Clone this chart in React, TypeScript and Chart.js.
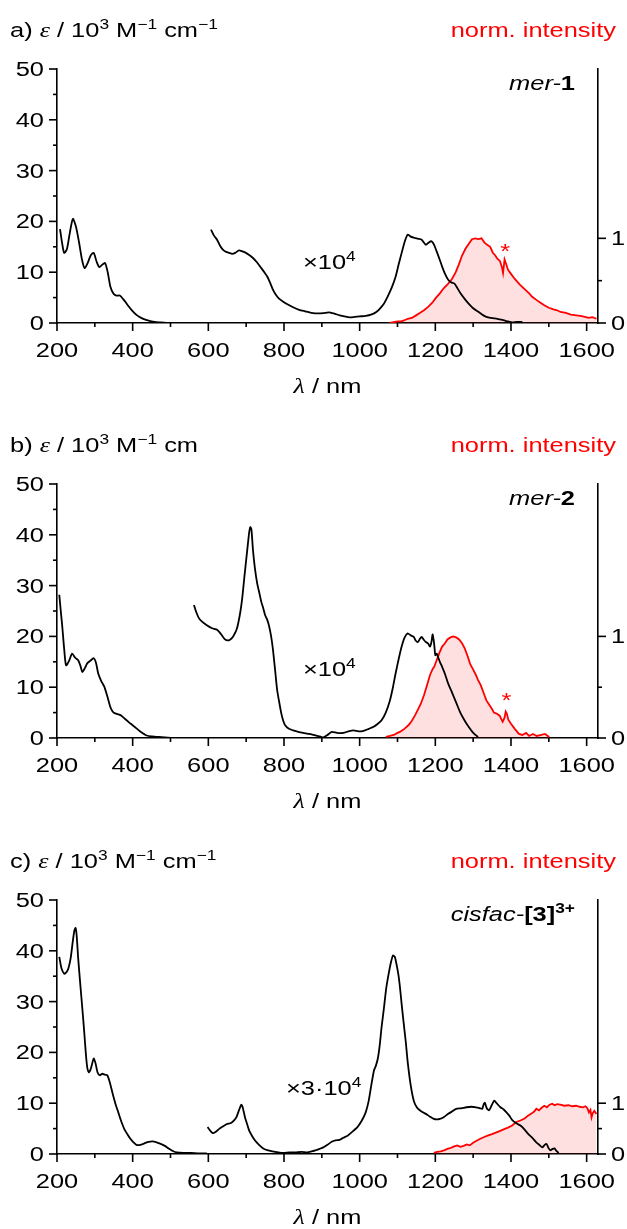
import React, { useEffect, useRef } from 'react';
import { Chart, registerables } from 'chart.js';

Chart.register(...registerables);

// ---------- data: [wavelength nm, value] ----------
// panel a (mer-1)
const aUv = [[208,18.5],[214,15.5],[219,13.8],[226,14.5],[234,17.8],[242,20.5],[250,19.0],[258,16.0],[266,12.5],[273,10.8],[281,11.8],[289,13.3],[297,13.8],[305,12.0],[312,11.0],[320,11.5],[327,11.8],[334,10.0],[341,7.2],[349,5.8],[357,5.4],[366,5.4],[376,4.6],[386,3.6],[398,2.5],[410,1.6],[425,0.9],[440,0.5],[458,0.2],[475,0.1],[490,0.0]];
const aNir = [[607,18.4],[615,17.2],[623,16.4],[631,15.2],[639,14.4],[647,14.0],[655,13.8],[663,13.6],[671,13.8],[681,14.3],[690,14.1],[697,13.9],[708,13.4],[718,12.8],[729,11.9],[740,10.8],[748,10.0],[756,9.1],[764,7.8],[771,6.5],[779,5.5],[787,4.8],[798,4.2],[809,3.7],[824,3.1],[840,2.6],[856,2.3],[872,2.0],[894,1.9],[910,2.0],[920,2.1],[935,1.8],[947,1.5],[960,1.3],[973,1.1],[987,1.2],[1000,1.3],[1016,1.4],[1032,1.7],[1043,2.1],[1053,2.8],[1064,3.8],[1074,5.2],[1085,7.0],[1095,9.1],[1103,11.5],[1111,13.8],[1119,16.0],[1127,17.4],[1135,17.0],[1143,16.8],[1153,16.6],[1164,16.4],[1175,15.4],[1182,15.8],[1189,16.1],[1196,15.5],[1202,14.4],[1210,12.8],[1218,11.1],[1226,9.6],[1234,8.5],[1242,8.0],[1250,7.8],[1258,6.9],[1267,5.8],[1277,4.8],[1288,3.8],[1300,2.9],[1314,2.2],[1325,1.6],[1335,1.2],[1346,1.0],[1357,0.9],[1370,0.7],[1382,0.5],[1392,0.3],[1403,0.1],[1415,0.2],[1430,0.2]];
const aEm = [[1079,0],[1090,0.01],[1100,0.02],[1110,0.02],[1117,0.03],[1127,0.05],[1138,0.06],[1149,0.09],[1160,0.12],[1170,0.15],[1181,0.19],[1192,0.24],[1202,0.30],[1212,0.35],[1222,0.41],[1233,0.46],[1244,0.52],[1254,0.60],[1262,0.69],[1271,0.80],[1280,0.88],[1289,0.94],[1297,0.99],[1305,1.00],[1314,0.99],[1322,1.00],[1330,0.95],[1338,0.92],[1345,0.90],[1352,0.83],[1358,0.80],[1364,0.76],[1371,0.73],[1376,0.66],[1379,0.59],[1383,0.75],[1387,0.70],[1392,0.63],[1400,0.58],[1410,0.52],[1424,0.45],[1436,0.40],[1448,0.35],[1456,0.31],[1468,0.27],[1478,0.24],[1488,0.21],[1500,0.18],[1512,0.16],[1522,0.15],[1531,0.13],[1545,0.12],[1558,0.10],[1573,0.09],[1587,0.08],[1598,0.07],[1605,0.06],[1615,0.07],[1626,0.05]];

// panel b (mer-2)
const bUv = [[206,28.2],[210,25.0],[214,21.9],[219,17.5],[224,14.3],[232,15.2],[240,16.6],[248,15.8],[256,15.3],[262,14.2],[267,13.0],[274,13.8],[280,14.7],[288,15.2],[297,15.7],[303,14.8],[309,12.7],[317,11.2],[325,10.1],[333,8.2],[341,6.1],[347,5.2],[352,4.9],[360,4.7],[368,4.5],[376,4.0],[384,3.5],[395,2.8],[405,2.2],[420,1.3],[437,0.5],[452,0.3],[469,0.2],[485,0.1],[501,0.0]];
const bNir = [[562,26.2],[568,24.8],[575,23.6],[585,22.8],[596,22.2],[610,21.6],[623,21.3],[634,20.4],[644,19.4],[652,19.2],[658,19.4],[664,19.8],[668,20.3],[674,21.2],[679,22.6],[685,25.0],[690,27.8],[695,31.5],[700,35.0],[705,38.5],[708,40.5],[711,41.5],[714,41.0],[718,37.0],[723,33.5],[729,30.5],[735,28.5],[740,26.8],[745,25.6],[750,24.2],[756,23.2],[761,21.9],[766,20.0],[771,17.3],[777,13.0],[782,9.4],[788,6.8],[793,4.8],[798,3.4],[803,2.5],[813,1.8],[824,1.5],[838,1.2],[851,1.0],[867,0.8],[883,0.5],[895,0.3],[904,0.1],[915,0.6],[926,1.2],[940,1.0],[957,1.0],[970,1.3],[984,1.5],[997,1.3],[1010,1.4],[1024,1.8],[1037,2.2],[1048,2.8],[1058,3.5],[1069,5.0],[1080,7.4],[1088,10.0],[1095,12.7],[1103,15.5],[1111,18.0],[1119,19.8],[1127,20.6],[1135,20.2],[1143,19.9],[1148,19.2],[1154,18.9],[1159,19.5],[1164,19.9],[1170,19.3],[1175,18.9],[1181,18.6],[1186,18.0],[1190,19.0],[1193,20.4],[1197,18.5],[1200,16.3],[1204,16.6],[1207,16.0],[1212,15.0],[1218,14.0],[1226,12.5],[1234,10.7],[1245,8.8],[1256,6.8],[1266,5.0],[1277,3.5],[1288,2.2],[1298,1.2],[1306,0.6],[1313,0.2]];
const bEm = [[1069,0.01],[1080,0.02],[1090,0.03],[1100,0.05],[1106,0.06],[1115,0.08],[1124,0.11],[1130,0.13],[1138,0.17],[1146,0.22],[1154,0.28],[1162,0.34],[1170,0.42],[1178,0.52],[1186,0.62],[1193,0.68],[1197,0.70],[1204,0.77],[1211,0.84],[1218,0.90],[1225,0.93],[1232,0.97],[1240,0.99],[1247,1.00],[1255,0.99],[1263,0.97],[1271,0.93],[1278,0.88],[1285,0.81],[1292,0.73],[1299,0.68],[1306,0.63],[1313,0.57],[1320,0.52],[1327,0.45],[1335,0.37],[1342,0.33],[1349,0.29],[1355,0.25],[1362,0.24],[1370,0.22],[1375,0.18],[1378,0.16],[1383,0.20],[1386,0.26],[1389,0.24],[1393,0.18],[1400,0.14],[1410,0.09],[1421,0.04],[1430,0.03],[1440,0.05],[1448,0.02],[1458,0.04],[1468,0.02],[1480,0.03],[1490,0.04],[1501,0.01]];

// panel c (cisfac-[3]3+)
const cUv = [[206,38.8],[212,36.5],[219,35.5],[225,35.8],[230,36.5],[236,38.5],[242,42.0],[246,44.0],[249,44.5],[252,43.0],[256,38.5],[262,33.0],[267,28.6],[272,24.0],[276,20.0],[280,17.0],[284,16.1],[288,16.5],[292,17.5],[297,18.8],[302,17.8],[307,16.1],[313,15.5],[320,15.8],[327,15.6],[333,15.5],[340,14.0],[346,12.2],[354,10.0],[362,8.2],[370,6.4],[378,4.9],[386,3.9],[394,3.0],[402,2.3],[410,1.8],[420,1.8],[431,2.1],[442,2.4],[453,2.5],[463,2.3],[474,2.0],[485,1.6],[495,1.1],[506,0.6],[517,0.3],[535,0.2],[554,0.2],[575,0.1],[596,0.1]];
const cNir = [[598,5.3],[605,4.6],[612,4.1],[620,4.4],[628,4.9],[638,5.4],[649,5.9],[660,6.1],[668,6.6],[674,7.2],[679,8.2],[683,9.0],[687,9.7],[690,9.4],[694,8.2],[697,7.2],[702,6.0],[708,4.6],[716,3.5],[724,2.6],[734,1.8],[745,1.1],[758,0.7],[771,0.5],[785,0.3],[798,0.2],[814,0.3],[830,0.3],[846,0.4],[862,0.3],[873,0.5],[883,0.7],[894,1.0],[904,1.3],[915,1.8],[926,2.4],[936,2.7],[947,2.8],[957,3.2],[968,3.6],[981,4.4],[994,5.3],[1005,6.5],[1016,8.2],[1024,10.5],[1032,14.1],[1038,16.5],[1043,17.4],[1048,18.8],[1053,21.4],[1058,25.0],[1064,28.6],[1070,32.5],[1076,35.2],[1082,37.5],[1088,39.1],[1093,38.8],[1097,37.5],[1102,35.5],[1106,33.2],[1111,29.5],[1116,26.0],[1122,22.0],[1127,18.1],[1135,13.5],[1143,10.5],[1151,9.2],[1159,8.6],[1167,8.2],[1175,7.9],[1185,7.4],[1196,6.9],[1204,6.8],[1212,6.9],[1223,7.3],[1234,7.9],[1245,8.4],[1255,8.9],[1268,9.0],[1282,9.2],[1295,9.3],[1308,9.2],[1318,9.0],[1324,8.9],[1328,9.8],[1331,10.1],[1336,9.0],[1342,8.6],[1349,9.6],[1356,10.5],[1362,10.0],[1372,9.2],[1380,8.8],[1388,8.2],[1396,7.5],[1404,6.6],[1415,6.0],[1425,5.6],[1436,4.8],[1446,3.9],[1456,3.2],[1467,2.3],[1475,1.8],[1483,1.3],[1489,1.8],[1494,2.0],[1499,1.2],[1504,0.7],[1510,1.0],[1515,1.1],[1520,0.6],[1526,0.2]];
const cEm = [[1196,0.02],[1205,0.04],[1214,0.05],[1223,0.07],[1232,0.10],[1241,0.12],[1250,0.15],[1258,0.17],[1266,0.14],[1275,0.16],[1283,0.19],[1291,0.17],[1300,0.22],[1309,0.26],[1319,0.30],[1328,0.33],[1338,0.36],[1350,0.39],[1360,0.42],[1370,0.45],[1382,0.49],[1392,0.52],[1403,0.56],[1414,0.63],[1425,0.66],[1436,0.70],[1446,0.76],[1455,0.80],[1462,0.84],[1467,0.89],[1474,0.86],[1481,0.91],[1488,0.95],[1495,0.92],[1502,0.97],[1509,0.99],[1515,0.96],[1522,0.98],[1530,0.97],[1541,0.95],[1552,0.96],[1562,0.94],[1572,0.95],[1582,0.93],[1590,0.92],[1597,0.94],[1602,0.90],[1606,0.82],[1610,0.87],[1613,0.72],[1616,0.80],[1620,0.85],[1626,0.79]];

const xTickLabels = ['200', '400', '600', '800', '1000', '1200', '1400', '1600'];
const yTickLabels = ['0', '10', '20', '30', '40', '50'];
const rightTickLabels = ['0', '1'];

// ---------- styling ----------
const SX = 1.24; // horizontal text stretch of the reference
const SANS = '"Liberation Sans", Arial, sans-serif';
const SERIF = '"Liberation Serif", "Times New Roman", serif';
const N = `20.5px ${SANS}`;
const IT = `italic 20.5px ${SANS}`;
const BD = `bold 20.5px ${SANS}`;
const SUP = `14px ${SANS}`;
const BSUP = `bold 14px ${SANS}`;
const GREEK = `italic 21px ${SERIF}`;
const RED = '#ff0000';

type Seg = { t: string; f: string; c?: string; dy?: number };

function drawRich(ctx: CanvasRenderingContext2D, segs: Seg[], x: number, y: number, align: 'left' | 'right' | 'center') {
  ctx.save();
  ctx.textBaseline = 'alphabetic';
  ctx.textAlign = 'left';
  let w = 0;
  const ws = segs.map((s) => {
    ctx.font = s.f;
    const m = ctx.measureText(s.t).width;
    w += m;
    return m;
  });
  const x0 = align === 'left' ? x : align === 'right' ? x - w * SX : x - (w * SX) / 2;
  ctx.translate(x0, y);
  ctx.scale(SX, 1);
  let cx = 0;
  segs.forEach((s, i) => {
    ctx.font = s.f;
    ctx.fillStyle = s.c || '#000';
    ctx.fillText(s.t, cx, s.dy || 0);
    cx += ws[i];
  });
  ctx.restore();
}

const titleSegs = (letter: string, tail: boolean): Seg[] => {
  const s: Seg[] = [
    { t: letter + ') ', f: N },
    { t: 'ε', f: GREEK },
    { t: ' / 10', f: N },
    { t: '3', f: SUP, dy: -8 },
    { t: ' M', f: N },
    { t: '−1', f: SUP, dy: -8 },
    { t: ' cm', f: N },
  ];
  if (tail) s.push({ t: '−1', f: SUP, dy: -8 });
  return s;
};

const panels = [
  {
    key: 'a', top: 0, height: 415, uv: aUv, nir: aNir, em: aEm, rightMax: 3,
    title: titleSegs('a', true),
    label: [{ t: 'mer-', f: IT }, { t: '1', f: BD }] as Seg[],
    factor: { x: 920, y: 12.0, segs: [{ t: '×10', f: N }, { t: '4', f: SUP, dy: -8 }] as Seg[] },
    star: { x: 1385, y: 14.6 },
  },
  {
    key: 'b', top: 415, height: 415, uv: bUv, nir: bNir, em: bEm, rightMax: 2.5,
    title: titleSegs('b', false),
    label: [{ t: 'mer-', f: IT }, { t: '2', f: BD }] as Seg[],
    factor: { x: 920, y: 13.6, segs: [{ t: '×10', f: N }, { t: '4', f: SUP, dy: -8 }] as Seg[] },
    star: { x: 1388, y: 7.8 },
  },
  {
    key: 'c', top: 831, height: 398, uv: cUv, nir: cNir, em: cEm, rightMax: 5,
    title: titleSegs('c', true),
    label: [{ t: 'cisfac-', f: IT }, { t: '[3]', f: BD }, { t: '3+', f: BSUP, dy: -8 }] as Seg[],
    factor: { x: 905, y: 13.0, segs: [{ t: '×3·10', f: N }, { t: '4', f: SUP, dy: -8 }] as Seg[] },
    star: null as null | { x: number; y: number },
  },
];

const PLOT_TOP = 69;
const PLOT_BOTTOM = 323;
const PLOT_LEFT = 57;
const PLOT_RIGHT = 598;

const toPts = (arr: number[][]) => arr.map(([x, y]) => ({ x, y }));

function Panel({ p }: { p: (typeof panels)[number] }) {
  const ref = useRef<HTMLCanvasElement | null>(null);
  useEffect(() => {
    if (!ref.current) return;
    const decor = {
      id: 'decor' + p.key,
      afterDraw(chart: any) {
        const ctx: CanvasRenderingContext2D = chart.ctx;
        const { left, right, top, bottom } = chart.chartArea;
        const xs = chart.scales.x;
        const ys = chart.scales.y;
        const y2 = chart.scales.y2;
        ctx.save();
        ctx.strokeStyle = '#000';
        ctx.lineWidth = 1.6;
        const line = (x1: number, y1: number, x2: number, y2_: number) => {
          ctx.beginPath();
          ctx.moveTo(x1, y1);
          ctx.lineTo(x2, y2_);
          ctx.stroke();
        };
        // x ticks
        for (let v = 200; v <= 1600; v += 100) {
          const px = xs.getPixelForValue(v);
          line(px, bottom, px, bottom + (v % 200 === 0 ? 8 : 4));
        }
        xTickLabels.forEach((lab) => {
          const px = xs.getPixelForValue(Number(lab));
          drawRich(ctx, [{ t: lab, f: N }], px, bottom + 34, 'center');
        });
        // left y ticks
        for (let v = 0; v <= 50; v += 5) {
          const py = ys.getPixelForValue(v);
          line(left - (v % 10 === 0 ? 8 : 4), py, left, py);
        }
        yTickLabels.forEach((lab) => {
          const py = ys.getPixelForValue(Number(lab));
          drawRich(ctx, [{ t: lab, f: N }], left - 13, py + 7, 'right');
        });
        // right y ticks
        [0, 0.5, 1].forEach((v) => {
          const py = y2.getPixelForValue(v);
          line(right, py, right + (v === 0.5 ? 4 : 8), py);
        });
        rightTickLabels.forEach((lab) => {
          const py = y2.getPixelForValue(Number(lab));
          drawRich(ctx, [{ t: lab, f: N }], right + 13, py + 7, 'left');
        });
        // titles
        drawRich(ctx, p.title, 10, top - 32, 'left');
        drawRich(ctx, [{ t: 'norm. intensity', f: N, c: RED }], 616, top - 32, 'right');
        drawRich(ctx, p.label, right - 23, top + 21, 'right');
        drawRich(ctx, [{ t: 'λ', f: GREEK }, { t: ' / nm', f: N }], (left + right) / 2, bottom + 70, 'center');
        // annotations
        drawRich(ctx, p.factor.segs, xs.getPixelForValue(p.factor.x), ys.getPixelForValue(p.factor.y) + 7, 'center');
        if (p.star) {
          drawRich(ctx, [{ t: '*', f: N, c: RED }], xs.getPixelForValue(p.star.x), ys.getPixelForValue(p.star.y) + 9, 'center');
        }
        ctx.restore();
      },
    };
    const chart = new Chart(ref.current, {
      type: 'line',
      data: {
        datasets: [
          { data: toPts(p.uv), yAxisID: 'y', borderColor: '#000', borderWidth: 1.8, pointRadius: 0, tension: 0.25, fill: false },
          { data: toPts(p.nir), yAxisID: 'y', borderColor: '#000', borderWidth: 1.8, pointRadius: 0, tension: 0.2, fill: false },
          {
            data: toPts(p.em), yAxisID: 'y2', borderColor: RED, borderWidth: 1.8, pointRadius: 0, tension: 0,
            fill: 'origin', backgroundColor: 'rgba(255,0,0,0.12)',
          },
        ],
      } as any,
      options: {
        animation: false,
        responsive: false,
        maintainAspectRatio: false,
        events: [],
        layout: { padding: { top: PLOT_TOP, left: 0, right: 0, bottom: 0 } },
        plugins: { legend: { display: false }, tooltip: { enabled: false }, title: { display: false } },
        scales: {
          x: {
            type: 'linear', min: 200, max: 1630,
            ticks: { display: false }, grid: { display: false },
            border: { display: true, color: '#000', width: 1.6 },
            afterFit: (s: any) => { s.height = p.height - PLOT_BOTTOM; },
          },
          y: {
            type: 'linear', position: 'left', min: 0, max: 50,
            ticks: { display: false }, grid: { display: false },
            border: { display: true, color: '#000', width: 1.6 },
            afterFit: (s: any) => { s.width = PLOT_LEFT; },
          },
          y2: {
            type: 'linear', position: 'right', min: 0, max: p.rightMax,
            ticks: { display: false }, grid: { display: false },
            border: { display: true, color: '#000', width: 1.6 },
            afterFit: (s: any) => { s.width = 627 - PLOT_RIGHT; },
          },
        },
      } as any,
      plugins: [decor],
    });
    return () => chart.destroy();
  }, [p]);
  return (
    <canvas
      ref={ref}
      width={627}
      height={p.height}
      style={{ position: 'absolute', left: 0, top: p.top, width: 627, height: p.height }}
    />
  );
}

export default function App() {
  return (
    <div style={{ position: 'absolute', left: 0, top: 0, width: 627, height: 1229, background: '#fff' }}>
      {panels.map((p) => (
        <Panel key={p.key} p={p} />
      ))}
    </div>
  );
}
